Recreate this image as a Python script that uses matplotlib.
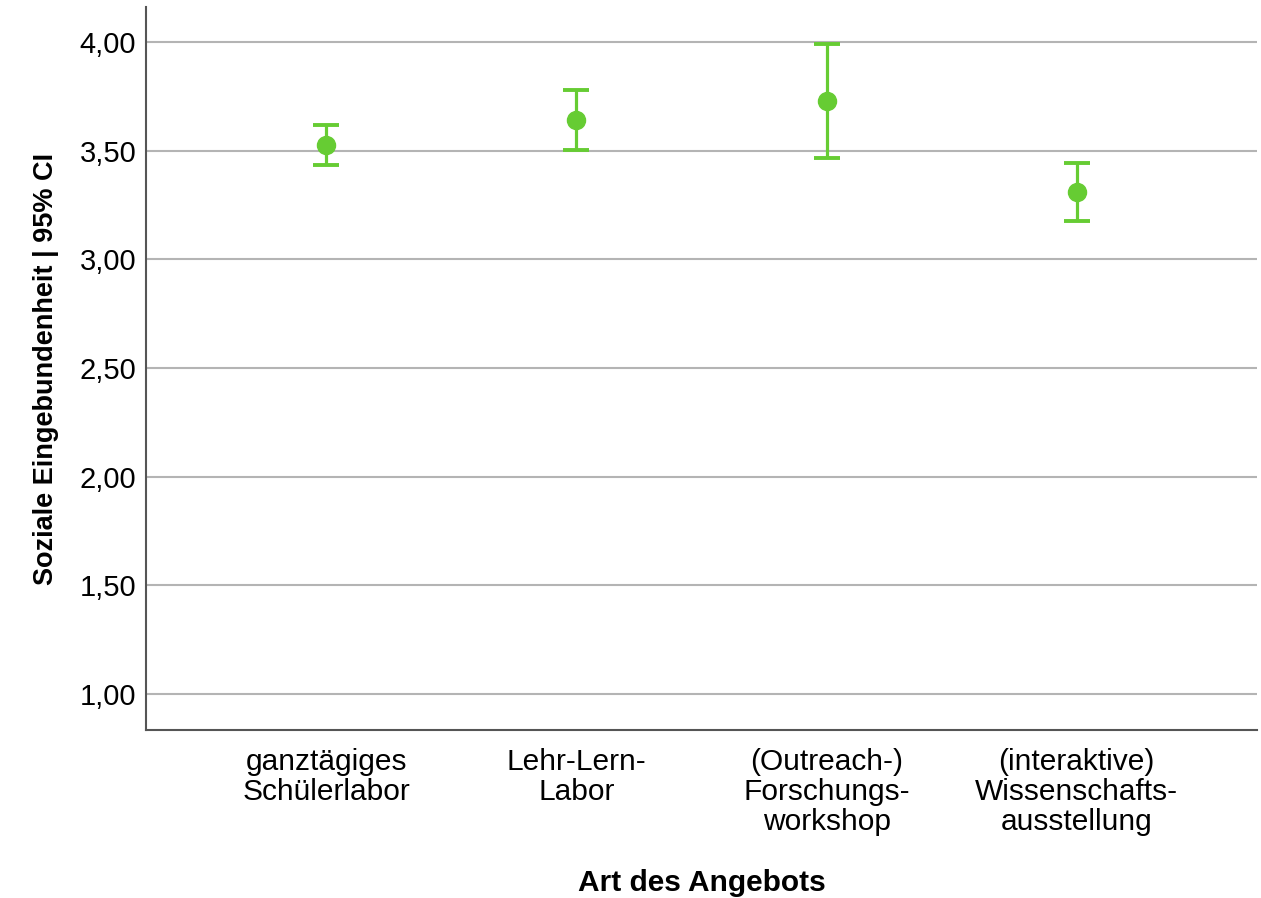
import matplotlib
matplotlib.use("Agg")
import matplotlib.pyplot as plt
from matplotlib.ticker import FuncFormatter

plt.rcParams['font.family'] = ['Liberation Sans', 'DejaVu Sans']

# Daten
kategorien = ['ganztägiges\nSchülerlabor', 'Lehr-Lern-\nLabor',
              '(Outreach-)\nForschungs-\nworkshop', '(interaktive)\nWissenschafts-\nausstellung']
mittelwerte = [3.525, 3.641, 3.728, 3.309]
ci_unten = [3.433, 3.502, 3.465, 3.175]
ci_oben = [3.618, 3.779, 3.991, 3.442]
y_ticks = [1.0, 1.5, 2.0, 2.5, 3.0, 3.5, 4.0]

gruen = '#66cc33'

fig = plt.figure(figsize=(12.61, 8.98), dpi=100)
ax = fig.add_axes([0.1158, 0.1871, 0.881, 0.8051])

x = list(range(len(kategorien)))
fehler_unten = [m - u for m, u in zip(mittelwerte, ci_unten)]
fehler_oben = [o - m for m, o in zip(mittelwerte, ci_oben)]

ax.errorbar(x, mittelwerte, yerr=[fehler_unten, fehler_oben], fmt='o',
            color=gruen, ecolor=gruen, markersize=13, elinewidth=2.3,
            capsize=9.5, capthick=2.8, zorder=3)

ax.set_xlim(-0.72, 3.72)
ax.set_ylim(0.834, 4.161)
ax.set_yticks(y_ticks)
ax.yaxis.set_major_formatter(FuncFormatter(lambda v, p: '{:.2f}'.format(v).replace('.', ',')))
ax.set_xticks(x)
ax.set_xticklabels(kategorien, fontsize=21.5, linespacing=1.08)
ax.tick_params(axis='y', labelsize=21, length=0, pad=7)
ax.tick_params(axis='x', length=0, pad=13)

ax.grid(axis='y', color='#b4b4b4', linewidth=1.5, zorder=0)
ax.set_axisbelow(True)

for s in ['top', 'right']:
    ax.spines[s].set_visible(False)
for s in ['left', 'bottom']:
    ax.spines[s].set_color('#555555')
    ax.spines[s].set_linewidth(1.5)

ax.set_ylabel('Soziale Eingebundenheit | 95% CI', fontsize=19.5, fontweight='bold', labelpad=15)
ax.set_xlabel('Art des Angebots', fontsize=21.5, fontweight='bold', labelpad=24)

plt.savefig('out.png', dpi=100)
